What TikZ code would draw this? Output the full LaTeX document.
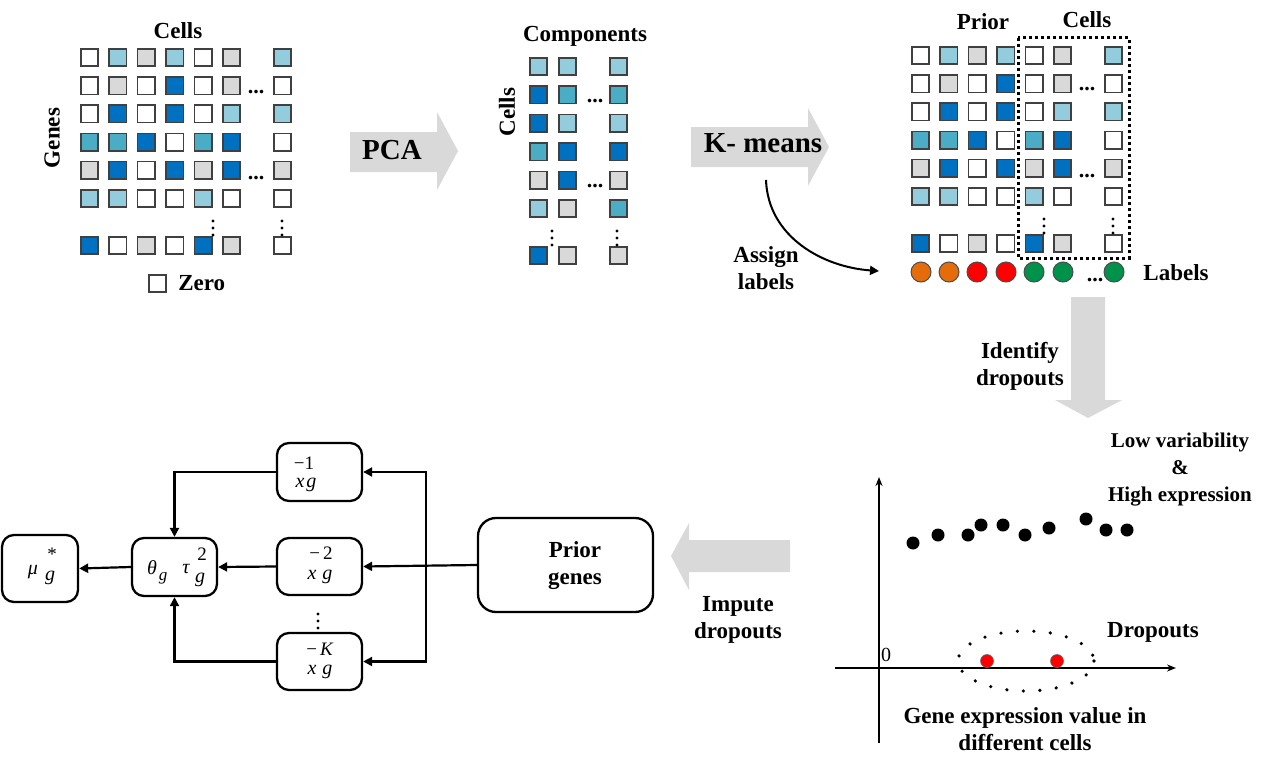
\documentclass[tikz,border=0pt]{standalone}
\usepackage{fontspec}
\setmainfont{Liberation Serif}
\usepackage{tikz}
\usetikzlibrary{arrows.meta, positioning, calc}
\definecolor{cellW}{HTML}{FFFFFF}
\definecolor{cellL}{HTML}{93CDDD}
\definecolor{cellG}{HTML}{D9D9D9}
\definecolor{cellT}{HTML}{4BACC6}
\definecolor{cellD}{HTML}{0070C0}
\definecolor{lblorange}{HTML}{E46C0A}
\definecolor{lblred}{HTML}{FF0000}
\definecolor{lblgreen}{HTML}{00924A}
\definecolor{arrowgray}{HTML}{D9D9D9}

\begin{document}
\begin{tikzpicture}[x=1pt, y=-1pt,
  cell/.style={draw=black!75, line width=1.6pt, minimum size=17.5pt, inner sep=0pt},
  lab/.style={font=\fontsize{23}{27}\selectfont\bfseries, inner sep=0pt, align=center},
  big/.style={font=\fontsize{29}{32}\selectfont\bfseries, inner sep=0pt},
  blockarrow/.style={fill=arrowgray},
  rbox/.style={draw, line width=2.3pt, rounded corners=12pt, inner sep=0pt},
  conn/.style={line width=2.2pt, -{Triangle[length=9pt,width=9pt]}},
  axis/.style={line width=2pt, -{Stealth[length=9pt,width=7pt]}},
  mth/.style={font=\fontsize{20}{20}\selectfont\itshape, inner sep=0pt},
  supr/.style={font=\fontsize{19}{19}\selectfont, inner sep=0pt},
  hdots/.style={font=\fontsize{22}{22}\selectfont\bfseries, inner sep=0pt, anchor=base},
  vdot/.style={circle, fill=black, minimum size=3.4pt, inner sep=0pt},
  lbl/.style={circle, draw=black!70, line width=1pt, minimum size=20pt, inner sep=0pt},
  pt/.style={circle, fill=black, minimum size=13pt, inner sep=0pt},
  droppt/.style={circle, fill=lblred, draw=black!60, line width=0.6pt, minimum size=13pt, inner sep=0pt},
]
\useasboundingbox (0,0) rectangle (1266,768);

% Expression matrix and prior + cells matrix
\foreach \ox/\oy/\mname in {0/0/a, 831/-2/c}{
  \foreach \row [count=\rw] in {{W,L,G,L,W,G,L},{W,G,W,D,W,G,W},{W,D,W,D,W,L,L},
      {T,T,D,W,T,D,W},{G,D,W,D,G,D,G},{L,L,W,W,L,W,W},{D,W,G,W,D,G,W}}{
    \foreach \col [count=\cl] in \row{
      \pgfmathsetmacro\xx{\ox + (\cl<7 ? 89.5+(\cl-1)*28.4 : 282.5)}
      \pgfmathsetmacro\yy{\oy + (\rw<7 ? 57.5+(\rw-1)*28.2 : 245.5)}
      \node[cell, fill=cell\col] (\mname-\rw-\cl) at (\xx,\yy) {};
    }
  }
  \node[hdots] at (256+\ox,93+\oy) {...};
  \node[hdots] at (256+\ox,179+\oy) {...};
  \foreach \dy in {221,228,235}{
    \node[vdot] at (213+\ox,\dy+\oy) {};
    \node[vdot] at (282+\ox,\dy+\oy) {};
  }
}

% PCA components matrix
\foreach \row [count=\rw] in {{L,L,L},{D,T,T},{D,L,L},{T,D,D},{G,D,G},{L,G,T},{D,G,G}}{
  \foreach \col [count=\cl] in \row{
    \pgfmathsetmacro\xx{\cl<3 ? 538.5+(\cl-1)*29 : 618.5}
    \pgfmathsetmacro\yy{\rw<7 ? 66.5+(\rw-1)*28.4 : 255.5}
    \node[cell, fill=cell\col] (b-\rw-\cl) at (\xx,\yy) {};
  }
}
\node[hdots] at (595,102) {...};
\node[hdots] at (595,187) {...};
\foreach \dy in {231,238,245}{
  \node[vdot] at (552,\dy) {};
  \node[vdot] at (617,\dy) {};
}

% Titles
\node[lab] (cellsA) at (178,31) {Cells};
\node[lab, rotate=90] (genes) at (52,138) {Genes};
\node[cell, fill=cellW] (zerobox) at (157.5,283.5) {};
\node[lab, right=11pt of zerobox] (zero) {Zero};
\node[lab] (comp) at (585,36) {Components};
\node[lab, rotate=90] (cellsB) at (507,112) {Cells};
\node[lab] (prior) at (983,22) {Prior};
\node[lab] (cellsC) at (1087,20) {Cells};
\draw[line width=3pt, dash pattern=on 3pt off 3pt] (1018,38) rectangle (1129,258);

% Cluster labels
\foreach \x/\cc [count=\i] in {921/lblorange, 949/lblorange, 977/lblred, 1006/lblred,
    1034/lblgreen, 1063/lblgreen, 1114/lblgreen}
  \node[lbl, fill=\cc] (lb\i) at (\x,272) {};
\node[hdots] at (1095,281) {...};
\node[lab] (labels) at (1176,273) {Labels};

% Block arrows
\fill[blockarrow] (350,132) -- (437,132) -- (437,112) -- (458,151) -- (437,190) -- (437,172) -- (350,172) -- cycle;
\fill[blockarrow] (691,127) -- (808,127) -- (808,108) -- (829,147) -- (808,186) -- (808,167) -- (691,167) -- cycle;
\fill[blockarrow] (1071,297) -- (1105,297) -- (1105,400) -- (1122,400) -- (1088,418) -- (1055,400) -- (1071,400) -- cycle;
\fill[blockarrow] (790,540) -- (689,540) -- (689,523) -- (671,556) -- (689,590) -- (689,572) -- (790,572) -- cycle;
\node[big] (pca) at (392,150) {PCA};
\node[big] (kmeans) at (763,143) {K- means};
\node[lab] (identify) at (1020,366) {Identify\\dropouts};
\node[lab] (impute) at (738,620) {Impute\\dropouts};

% Assign labels
\coordinate (asgS) at (766,180);
\coordinate (asgE) at (879,271);
\draw[conn, line width=2pt] (asgS) to[out=-88, in=176] (asgE);
\node[lab] (assign) at (766,268) {Assign\\labels};

% Dropout plot
\draw[axis] (879,743) -- (879,477);
\draw[axis] (835,668) -- (1176,668);
\node[font=\fontsize{20}{20}\selectfont, inner sep=0pt] (zero0) at (886,655) {0};
\foreach \x/\y in {913/543, 938/535, 968/535, 981/525, 1003/525, 1025/535, 1049/528, 1086/519, 1106/530, 1127/530}
  \node[pt] at (\x,\y) {};
\node[droppt] (d1) at (987,661) {};
\node[droppt] (d2) at (1057,661) {};
\draw[line width=3.6pt, line cap=round, dash pattern=on 0pt off 16.5pt] (1026,661) ellipse (68 and 30);
\node[lab, font=\fontsize{21}{27}\selectfont\bfseries] (lowvar) at (1180,470) {Low variability\\\&\\High expression};
\node[lab] (dropouts) at (1153,632) {Dropouts};
\node[lab] (xlab) at (1025,729) {Gene expression value in\\different cells};

% Bayesian model boxes
\node[rbox, minimum width=175pt, minimum height=94pt, rounded corners=18pt] (pg) at (565.5,565) {};
\node[lab] at (575,566) {Prior\\genes};
\node[rbox, minimum width=85pt, minimum height=58pt] (x1) at (319.5,472) {};
\node[rbox, minimum width=85pt, minimum height=57pt] (x2) at (319.5,566.5) {};
\node[rbox, minimum width=85pt, minimum height=57pt] (xK) at (319.5,661.5) {};
\node[rbox, minimum width=85pt, minimum height=58pt] (th) at (174.5,567) {};
\node[rbox, minimum width=76pt, minimum height=67pt] (mu) at (40,568.5) {};
\foreach \dy in {614,621,628}
  \node[vdot] at (318,\dy) {};

\node[supr] at (304,463) {−1};
\node[mth] at (306,485) {x\kern2pt g};
\node[supr] at (321,553) {−\,2};
\node[mth] at (320,577) {x\kern6pt g};
\node[supr] at (320,649) {−\,\textit{K}};
\node[mth] at (320,672) {x\kern6pt g};
\node[mth] at (152,568) {θ};
\node[mth, font=\fontsize{17}{17}\selectfont\itshape] at (163,578) {g};
\node[mth] at (186,569) {τ};
\node[supr] at (202,554) {2};
\node[mth] at (200,580) {g};
\node[mth] at (33,572) {μ};
\node[supr] at (52,554) {*};
\node[mth] at (50,578) {g};

% Arrows
\coordinate (bus) at (426,566);
\draw[conn] (pg.west) -- (x2.east);
\draw[conn] (bus) |- (x1.east);
\draw[conn] (bus) |- (xK.east);
\draw[conn] (x1.west) -| (th.north);
\draw[conn] (xK.west) -| (th.south);
\draw[conn] (x2.west) -- (th.east);
\draw[conn] (th.west) -- (mu.east);
\end{tikzpicture}
\end{document}
